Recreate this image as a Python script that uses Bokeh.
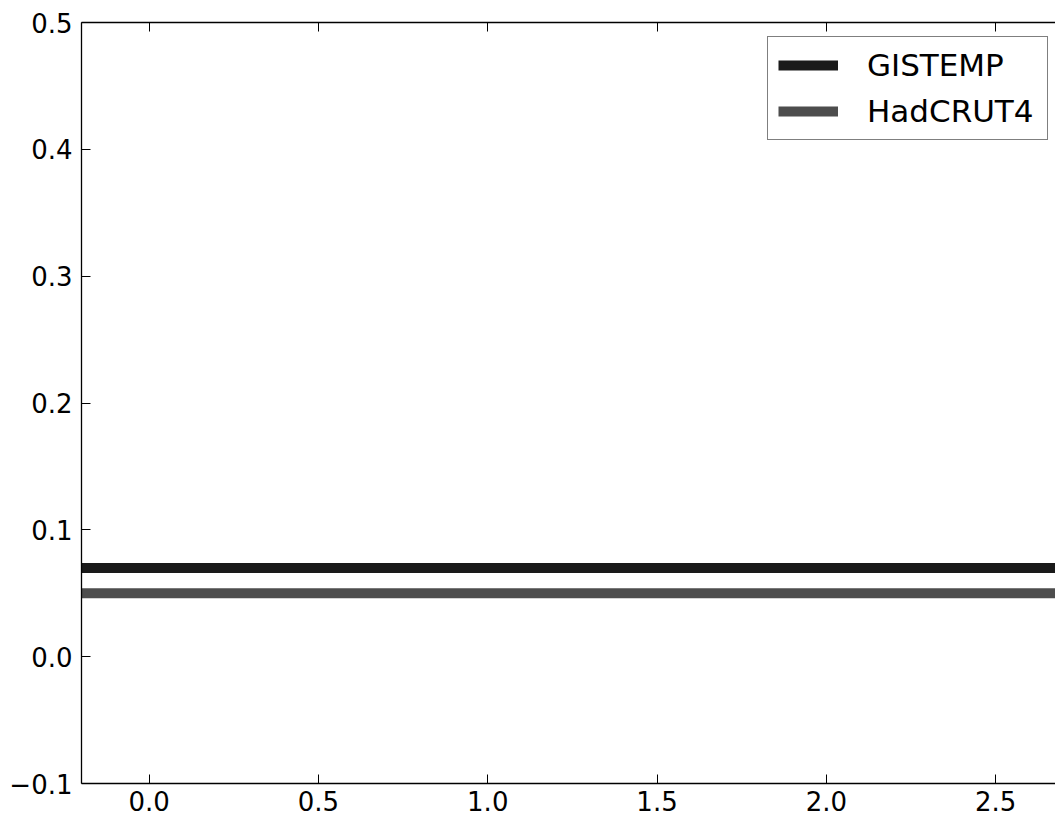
from bokeh.plotting import figure
from bokeh.models import (Range1d, LinearAxis, FixedTicker, CustomJSTickFormatter,
                          Legend, LegendItem)
from bokeh.embed import file_html
from bokeh.resources import INLINE

# ---- data ----
series_names = ["GISTEMP", "HadCRUT4"]
x_vals = [-0.5, 3.0]
gistemp = [0.07, 0.07]
hadcrut4 = [0.05, 0.05]
x_ticks = [0.0, 0.5, 1.0, 1.5, 2.0, 2.5]
y_ticks = [-0.1, 0.0, 0.1, 0.2, 0.3, 0.4, 0.5]

FONT = "DejaVu Sans"

p = figure(width=1055, height=822, output_backend="svg", toolbar_location=None,
           x_range=Range1d(-0.2, 2.677), y_range=Range1d(-0.1, 0.5),
           x_axis_location=None, y_axis_location=None,
           min_border_left=81, min_border_right=0, min_border_top=22,
           min_border_bottom=39)
p.outline_line_color = None
p.background_fill_color = "white"
p.border_fill_color = "white"
p.xgrid.visible = False
p.ygrid.visible = False

fmt = CustomJSTickFormatter(code="return tick.toFixed(1).replace('-', '\u2212');")
blank = CustomJSTickFormatter(code="return '';")

def style(ax, labels=True):
    ax.axis_line_color = "black"
    ax.axis_line_width = 1.3
    ax.major_tick_in = 9
    ax.major_tick_out = 0
    ax.major_tick_line_color = "black"
    ax.major_tick_line_width = 1
    ax.minor_tick_line_color = None
    if labels:
        ax.major_label_text_font = FONT
        ax.major_label_text_font_size = "26px"
        ax.major_label_text_color = "black"
    else:
        ax.major_label_text_font_size = "0px"
        ax.major_label_standoff = 0

xb = LinearAxis(ticker=FixedTicker(ticks=x_ticks), formatter=fmt)
style(xb)
xb.major_label_standoff = 7
p.add_layout(xb, "below")

yl = LinearAxis(ticker=FixedTicker(ticks=y_ticks), formatter=fmt)
style(yl)
yl.major_label_standoff = 9
p.add_layout(yl, "left")

xt = LinearAxis(ticker=FixedTicker(ticks=x_ticks), formatter=blank)
style(xt, labels=False)
p.add_layout(xt, "above")

r1 = p.line(x_vals, gistemp, line_color="#1a1a1a", line_width=10)
r2 = p.line(x_vals, hadcrut4, line_color="#4d4d4d", line_width=10)

legend = Legend(items=[LegendItem(label=series_names[0], renderers=[r1]),
                       LegendItem(label=series_names[1], renderers=[r2])],
                location=(686, 643))
legend.label_text_font = FONT
legend.label_text_font_size = "31px"
legend.label_text_color = "black"
legend.glyph_width = 60
legend.glyph_height = 34
legend.label_height = 34
legend.label_width = 170
legend.label_standoff = 29
legend.padding = 10
legend.spacing = 10
legend.margin = 0
legend.border_line_color = "black"
legend.border_line_width = 1.3
legend.background_fill_color = "white"
legend.background_fill_alpha = 1.0
p.add_layout(legend)

open("out.html", "w").write(file_html(p, INLINE))
